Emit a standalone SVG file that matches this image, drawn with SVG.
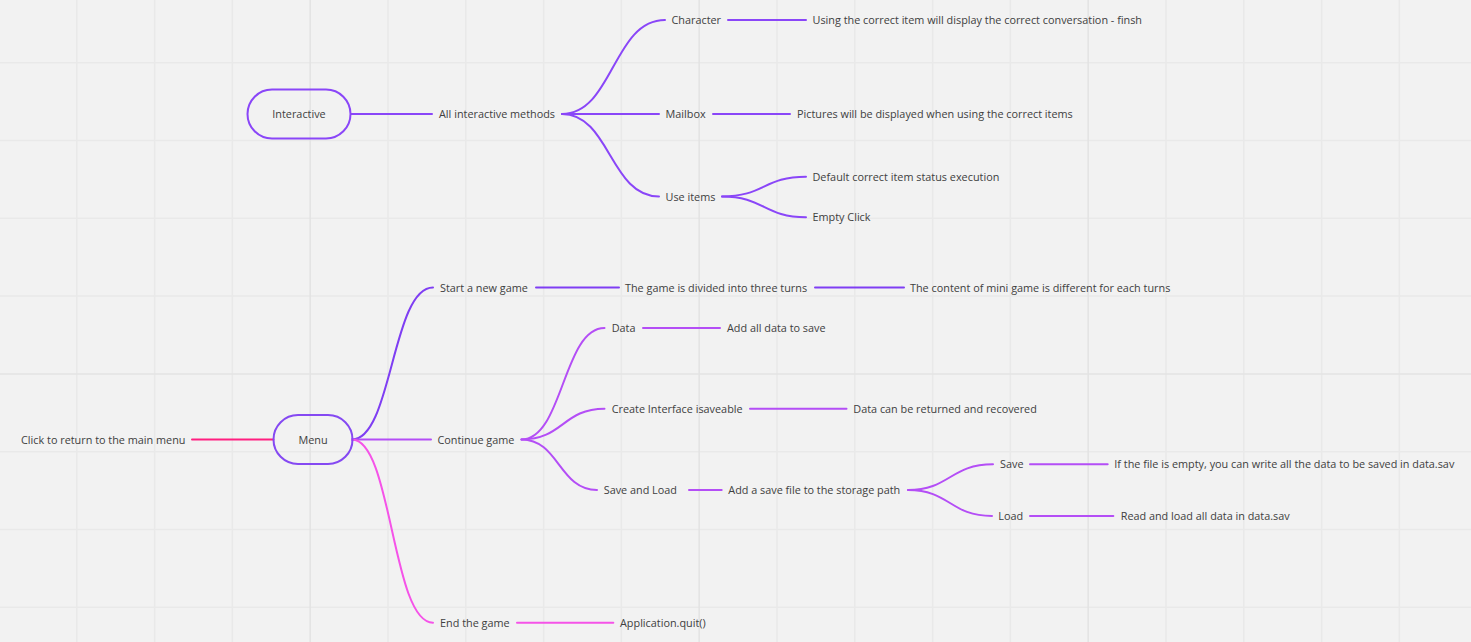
<svg xmlns="http://www.w3.org/2000/svg" width="1471" height="642" viewBox="0 0 1471 642">
<style>
.t{font-family:"Open Sans","Liberation Sans",sans-serif;font-size:10.85px;fill:#404040}
.c{fill:none;stroke-width:2;stroke-linecap:round}
.node{fill:none;stroke-width:2}
.a{stroke:#8a46f8}
.s{stroke:#7f3ef3}
.g{stroke:#b44ef6}
.e{stroke:#f553e8}
.k{stroke:#ff1f80}
</style>
<rect width="1471" height="642" fill="#f2f2f2"/>
<g id="grid" fill="none">
<path stroke="#e9e9e9" stroke-width="1.5" d="M76.8,0V642M154.6,0V642M232.4,0V642M388,0V642M465.8,0V642M543.6,0V642M621.4,0V642M777,0V642M854.8,0V642M932.6,0V642M1010.4,0V642M1166,0V642M1243.8,0V642M1321.6,0V642M1399.4,0V642M0,62.7H1471M0,140.5H1471M0,218.3H1471M0,296.1H1471M0,451.7H1471M0,529.5H1471M0,607.3H1471"/>
<path stroke="#e3e3e3" stroke-width="1.5" d="M310.2,0V642M699.2,0V642M1088.2,0V642M0,373.9H1471"/>
</g>
<g id="connectors">
<path class="c a" d="M351,114H432"/>
<path class="c a" d="M562,114C613,114 613,20 665,20"/>
<path class="c a" d="M562,114H659"/>
<path class="c a" d="M562,114C610,114 610,196.5 659,196.5"/>
<path class="c a" d="M728,20H806"/>
<path class="c a" d="M713,114H790"/>
<path class="c a" d="M722,196.5C764,196.5 764,176.7 806,176.7"/>
<path class="c a" d="M722,196.5C764,196.5 764,217.3 806,217.3"/>
<path class="c k" d="M192,439.5H273.5"/>
<path class="c s" d="M352,439.5C392,439.5 392,287.5 433,287.5"/>
<path class="c s" d="M536,287.5H619"/>
<path class="c s" d="M815,287.5H904"/>
<path class="c g" d="M352,439.5H431"/>
<path class="c g" d="M521.5,439.5C563,439.5 563,328 604.5,328"/>
<path class="c g" d="M521.5,439.5C563,439.5 563,408.7 604.5,408.7"/>
<path class="c g" d="M521.5,439.5C559,439.5 559,490 597,490"/>
<path class="c g" d="M643,328H720"/>
<path class="c g" d="M750,408.7H846.5"/>
<path class="c g" d="M689,490H721.7"/>
<path class="c g" d="M908,490C950,490 950,464.3 993,464.3"/>
<path class="c g" d="M908,490C950,490 950,516 992,516"/>
<path class="c g" d="M1030,464.3H1107.7"/>
<path class="c g" d="M1030,516H1113.3"/>
<path class="c e" d="M352,439.5C392,439.5 392,622.7 433,622.7"/>
<path class="c e" d="M517,622.7H613.3"/>
</g>
<g id="n-interactive"><rect class="node a" x="247.5" y="89.5" width="103" height="49" rx="24.5"/><text class="t" x="299" y="118" text-anchor="middle">Interactive</text></g>
<g id="n-all-methods"><text class="t" x="439" y="118">All interactive methods</text></g>
<g id="n-character"><text class="t" x="671.5" y="24">Character</text></g>
<g id="n-mailbox"><text class="t" x="665.5" y="118">Mailbox</text></g>
<g id="n-use-items"><text class="t" x="665.5" y="200.5">Use items</text></g>
<g id="n-character-desc"><text class="t" x="812.5" y="24">Using the correct item will display the correct conversation - finsh</text></g>
<g id="n-mailbox-desc"><text class="t" x="797" y="118">Pictures will be displayed when using the correct items</text></g>
<g id="n-default"><text class="t" x="812.5" y="180.7">Default correct item status execution</text></g>
<g id="n-empty-click"><text class="t" x="812.5" y="221.3">Empty Click</text></g>
<g id="n-menu"><rect class="node" stroke="#8549f2" x="273.5" y="415" width="79" height="49" rx="24.5"/><text class="t" x="313" y="443.5" text-anchor="middle">Menu</text></g>
<g id="n-click-return"><text class="t" x="21" y="443.5">Click to return to the main menu</text></g>
<g id="n-start"><text class="t" x="440" y="291.5">Start a new game</text></g>
<g id="n-three-turns"><text class="t" x="625" y="291.5">The game is divided into three turns</text></g>
<g id="n-mini-game"><text class="t" x="910" y="291.5">The content of mini game is different for each turns</text></g>
<g id="n-continue"><text class="t" x="437.5" y="443.5">Continue game</text></g>
<g id="n-data"><text class="t" x="611.7" y="332">Data</text></g>
<g id="n-add-data"><text class="t" x="727" y="332">Add all data to save</text></g>
<g id="n-create-interface"><text class="t" x="611.7" y="412.7">Create Interface isaveable</text></g>
<g id="n-returned"><text class="t" x="853.3" y="412.7">Data can be returned and recovered</text></g>
<g id="n-save-load"><text class="t" x="603.7" y="494">Save and Load</text></g>
<g id="n-save-file"><text class="t" x="728.3" y="494">Add a save file to the storage path</text></g>
<g id="n-save"><text class="t" x="1000" y="468.3">Save</text></g>
<g id="n-save-desc"><text class="t" x="1114.3" y="468.3">If the file is empty, you can write all the data to be saved in data.sav</text></g>
<g id="n-load"><text class="t" x="998.3" y="520">Load</text></g>
<g id="n-load-desc"><text class="t" x="1120.7" y="520">Read and load all data in data.sav</text></g>
<g id="n-end"><text class="t" x="440" y="626.7">End the game</text></g>
<g id="n-quit"><text class="t" x="620" y="626.7">Application.quit()</text></g>
</svg>
